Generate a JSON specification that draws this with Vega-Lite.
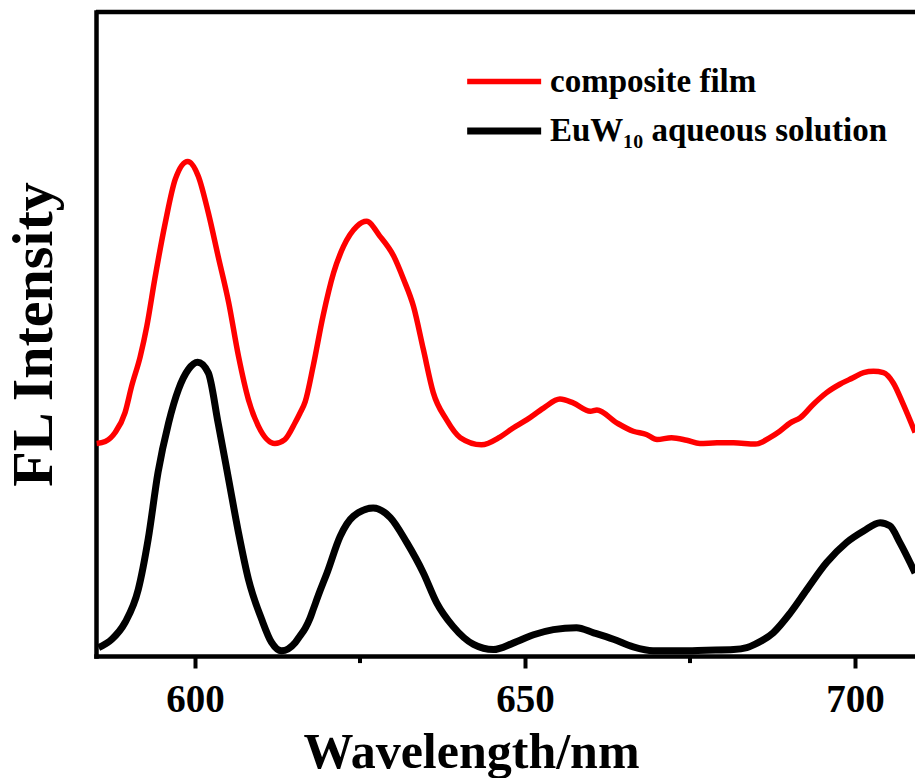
{
  "$schema": "https://vega.github.io/schema/vega-lite/v6.json",
  "width": 819,
  "height": 644,
  "autosize": {"type": "none"},
  "padding": {"left": 96, "top": 12, "right": 0, "bottom": 122},
  "background": "white",
  "config": {"view": {"stroke": null}, "font": "Liberation Serif"},
  "datasets": {
    "spectra": [
      {"w": 585.1, "v": 330, "s": "composite film"},
      {"w": 586.4, "v": 333, "s": "composite film"},
      {"w": 587.9, "v": 347, "s": "composite film"},
      {"w": 589.4, "v": 378, "s": "composite film"},
      {"w": 590.4, "v": 419, "s": "composite film"},
      {"w": 591.7, "v": 465, "s": "composite film"},
      {"w": 592.7, "v": 512, "s": "composite film"},
      {"w": 593.9, "v": 585, "s": "composite film"},
      {"w": 595.5, "v": 673, "s": "composite film"},
      {"w": 597.0, "v": 740, "s": "composite film"},
      {"w": 598.9, "v": 768, "s": "composite film"},
      {"w": 600.5, "v": 745, "s": "composite film"},
      {"w": 602.0, "v": 689, "s": "composite film"},
      {"w": 603.5, "v": 621, "s": "composite film"},
      {"w": 605.1, "v": 549, "s": "composite film"},
      {"w": 606.6, "v": 465, "s": "composite film"},
      {"w": 608.1, "v": 398, "s": "composite film"},
      {"w": 609.6, "v": 357, "s": "composite film"},
      {"w": 612.1, "v": 330, "s": "composite film"},
      {"w": 613.6, "v": 336, "s": "composite film"},
      {"w": 615.2, "v": 363, "s": "composite film"},
      {"w": 615.9, "v": 377, "s": "composite film"},
      {"w": 616.7, "v": 395, "s": "composite film"},
      {"w": 617.9, "v": 450, "s": "composite film"},
      {"w": 619.4, "v": 528, "s": "composite film"},
      {"w": 621.0, "v": 595, "s": "composite film"},
      {"w": 622.5, "v": 636, "s": "composite film"},
      {"w": 624.5, "v": 667, "s": "composite film"},
      {"w": 626.0, "v": 675, "s": "composite film"},
      {"w": 628.0, "v": 652, "s": "composite film"},
      {"w": 630.1, "v": 621, "s": "composite film"},
      {"w": 631.6, "v": 585, "s": "composite film"},
      {"w": 633.1, "v": 543, "s": "composite film"},
      {"w": 634.6, "v": 476, "s": "composite film"},
      {"w": 636.1, "v": 409, "s": "composite film"},
      {"w": 638.1, "v": 367, "s": "composite film"},
      {"w": 640.2, "v": 339, "s": "composite film"},
      {"w": 643.4, "v": 328, "s": "composite film"},
      {"w": 646.2, "v": 340, "s": "composite film"},
      {"w": 648.2, "v": 354, "s": "composite film"},
      {"w": 650.3, "v": 367, "s": "composite film"},
      {"w": 652.8, "v": 385, "s": "composite film"},
      {"w": 655.3, "v": 399, "s": "composite film"},
      {"w": 657.3, "v": 393, "s": "composite film"},
      {"w": 659.9, "v": 380, "s": "composite film"},
      {"w": 660.9, "v": 382, "s": "composite film"},
      {"w": 663.9, "v": 362, "s": "composite film"},
      {"w": 666.4, "v": 349, "s": "composite film"},
      {"w": 668.4, "v": 344, "s": "composite film"},
      {"w": 670.0, "v": 336, "s": "composite film"},
      {"w": 672.2, "v": 339, "s": "composite film"},
      {"w": 674.5, "v": 335, "s": "composite film"},
      {"w": 676.5, "v": 330, "s": "composite film"},
      {"w": 679.1, "v": 331, "s": "composite film"},
      {"w": 681.6, "v": 331, "s": "composite film"},
      {"w": 684.9, "v": 329, "s": "composite film"},
      {"w": 687.1, "v": 339, "s": "composite film"},
      {"w": 688.6, "v": 349, "s": "composite film"},
      {"w": 690.2, "v": 362, "s": "composite film"},
      {"w": 691.7, "v": 370, "s": "composite film"},
      {"w": 693.7, "v": 391, "s": "composite film"},
      {"w": 695.7, "v": 409, "s": "composite film"},
      {"w": 697.7, "v": 422, "s": "composite film"},
      {"w": 699.7, "v": 432, "s": "composite film"},
      {"w": 701.3, "v": 440, "s": "composite film"},
      {"w": 702.8, "v": 442, "s": "composite film"},
      {"w": 704.3, "v": 440, "s": "composite film"},
      {"w": 705.8, "v": 424, "s": "composite film"},
      {"w": 707.3, "v": 391, "s": "composite film"},
      {"w": 709.1, "v": 347, "s": "composite film"},
      {"w": 585.4, "v": 13, "s": "EuW₁₀ aqueous solution"},
      {"w": 587.4, "v": 26, "s": "EuW₁₀ aqueous solution"},
      {"w": 589.4, "v": 52, "s": "EuW₁₀ aqueous solution"},
      {"w": 591.4, "v": 103, "s": "EuW₁₀ aqueous solution"},
      {"w": 592.9, "v": 181, "s": "EuW₁₀ aqueous solution"},
      {"w": 594.4, "v": 285, "s": "EuW₁₀ aqueous solution"},
      {"w": 596.0, "v": 362, "s": "EuW₁₀ aqueous solution"},
      {"w": 597.5, "v": 414, "s": "EuW₁₀ aqueous solution"},
      {"w": 599.0, "v": 445, "s": "EuW₁₀ aqueous solution"},
      {"w": 600.4, "v": 456, "s": "EuW₁₀ aqueous solution"},
      {"w": 602.0, "v": 440, "s": "EuW₁₀ aqueous solution"},
      {"w": 603.5, "v": 362, "s": "EuW₁₀ aqueous solution"},
      {"w": 605.1, "v": 274, "s": "EuW₁₀ aqueous solution"},
      {"w": 606.6, "v": 191, "s": "EuW₁₀ aqueous solution"},
      {"w": 608.1, "v": 119, "s": "EuW₁₀ aqueous solution"},
      {"w": 610.1, "v": 57, "s": "EuW₁₀ aqueous solution"},
      {"w": 611.6, "v": 21, "s": "EuW₁₀ aqueous solution"},
      {"w": 613.1, "v": 8, "s": "EuW₁₀ aqueous solution"},
      {"w": 615.2, "v": 21, "s": "EuW₁₀ aqueous solution"},
      {"w": 615.9, "v": 31, "s": "EuW₁₀ aqueous solution"},
      {"w": 616.7, "v": 43, "s": "EuW₁₀ aqueous solution"},
      {"w": 617.4, "v": 58, "s": "EuW₁₀ aqueous solution"},
      {"w": 617.9, "v": 72, "s": "EuW₁₀ aqueous solution"},
      {"w": 618.9, "v": 100, "s": "EuW₁₀ aqueous solution"},
      {"w": 620.0, "v": 129, "s": "EuW₁₀ aqueous solution"},
      {"w": 622.0, "v": 186, "s": "EuW₁₀ aqueous solution"},
      {"w": 624.0, "v": 217, "s": "EuW₁₀ aqueous solution"},
      {"w": 627.0, "v": 230, "s": "EuW₁₀ aqueous solution"},
      {"w": 629.6, "v": 215, "s": "EuW₁₀ aqueous solution"},
      {"w": 632.1, "v": 176, "s": "EuW₁₀ aqueous solution"},
      {"w": 634.6, "v": 129, "s": "EuW₁₀ aqueous solution"},
      {"w": 636.6, "v": 83, "s": "EuW₁₀ aqueous solution"},
      {"w": 639.1, "v": 46, "s": "EuW₁₀ aqueous solution"},
      {"w": 642.2, "v": 18, "s": "EuW₁₀ aqueous solution"},
      {"w": 645.2, "v": 10, "s": "EuW₁₀ aqueous solution"},
      {"w": 648.2, "v": 20, "s": "EuW₁₀ aqueous solution"},
      {"w": 651.3, "v": 33, "s": "EuW₁₀ aqueous solution"},
      {"w": 654.3, "v": 41, "s": "EuW₁₀ aqueous solution"},
      {"w": 657.8, "v": 44, "s": "EuW₁₀ aqueous solution"},
      {"w": 660.4, "v": 36, "s": "EuW₁₀ aqueous solution"},
      {"w": 663.4, "v": 26, "s": "EuW₁₀ aqueous solution"},
      {"w": 666.4, "v": 14, "s": "EuW₁₀ aqueous solution"},
      {"w": 669.4, "v": 8, "s": "EuW₁₀ aqueous solution"},
      {"w": 673.5, "v": 8, "s": "EuW₁₀ aqueous solution"},
      {"w": 677.5, "v": 9, "s": "EuW₁₀ aqueous solution"},
      {"w": 681.6, "v": 10, "s": "EuW₁₀ aqueous solution"},
      {"w": 683.6, "v": 13, "s": "EuW₁₀ aqueous solution"},
      {"w": 684.8, "v": 18, "s": "EuW₁₀ aqueous solution"},
      {"w": 687.6, "v": 36, "s": "EuW₁₀ aqueous solution"},
      {"w": 690.2, "v": 67, "s": "EuW₁₀ aqueous solution"},
      {"w": 692.7, "v": 103, "s": "EuW₁₀ aqueous solution"},
      {"w": 695.7, "v": 145, "s": "EuW₁₀ aqueous solution"},
      {"w": 698.7, "v": 176, "s": "EuW₁₀ aqueous solution"},
      {"w": 701.3, "v": 194, "s": "EuW₁₀ aqueous solution"},
      {"w": 703.8, "v": 207, "s": "EuW₁₀ aqueous solution"},
      {"w": 705.3, "v": 202, "s": "EuW₁₀ aqueous solution"},
      {"w": 706.8, "v": 176, "s": "EuW₁₀ aqueous solution"},
      {"w": 709.1, "v": 129, "s": "EuW₁₀ aqueous solution"}
    ],
    "minorTicks": [{"w": 625}, {"w": 675}]
  },
  "layer": [
    {
      "data": {"name": "spectra"},
      "mark": {"type": "line", "interpolate": "monotone", "clip": true},
      "encoding": {
        "x": {
          "field": "w", "type": "quantitative",
          "scale": {"domain": [585, 709.09], "nice": false, "zero": false},
          "axis": {
            "values": [600, 650, 700],
            "title": "Wavelength/nm",
            "titleFont": "Liberation Serif", "titleFontSize": 50, "titleFontWeight": "bold", "titleColor": "black", "titlePadding": 8,
            "titleX": 375, "titleAlign": "center",
            "labelFont": "Liberation Serif", "labelFontSize": 39, "labelFontWeight": "bold", "labelColor": "black", "labelPadding": 12,
            "labelFlush": false, "labelOverlap": false,
            "tickSize": 12, "tickWidth": 4, "tickColor": "black",
            "domainWidth": 4.5, "domainColor": "black", "domainCap": "square",
            "grid": false
          }
        },
        "y": {
          "field": "v", "type": "quantitative",
          "scale": {"domain": [0, 1000], "nice": false},
          "axis": {
            "title": "FL Intensity", "labels": false, "ticks": false, "grid": false,
            "domainWidth": 4.5, "domainColor": "black", "domainCap": "square",
            "titleFont": "Liberation Serif", "titleFontSize": 58, "titleFontWeight": "bold", "titleColor": "black", "titlePadding": 33
          }
        },
        "color": {
          "field": "s", "type": "nominal",
          "scale": {"domain": ["composite film", "EuW₁₀ aqueous solution"], "range": ["#ff0000", "#000000"]},
          "legend": {
            "orient": "none", "legendX": 367, "legendY": 53, "title": null,
            "symbolType": "M-1,0H5", "symbolSize": 608, "symbolStrokeWidth": 6.5,
            "labelFont": "Liberation Serif", "labelFontSize": 33, "labelFontWeight": "bold", "labelColor": "black",
            "labelOffset": 54, "rowPadding": 15.5, "labelLimit": 600
          }
        },
        "strokeWidth": {
          "field": "s", "type": "nominal",
          "scale": {"domain": ["composite film", "EuW₁₀ aqueous solution"], "range": [5.5, 7]},
          "legend": null
        }
      }
    },
    {
      "data": {"name": "minorTicks"},
      "mark": {"type": "rule", "color": "black", "strokeWidth": 4},
      "encoding": {
        "x": {"field": "w", "type": "quantitative"},
        "y": {"datum": 0},
        "y2": {"datum": -11}
      }
    },
    {
      "data": {"values": [{}]},
      "mark": {"type": "rule", "color": "black", "strokeWidth": 4.5},
      "encoding": {"y": {"datum": 1000}}
    }
  ]
}
